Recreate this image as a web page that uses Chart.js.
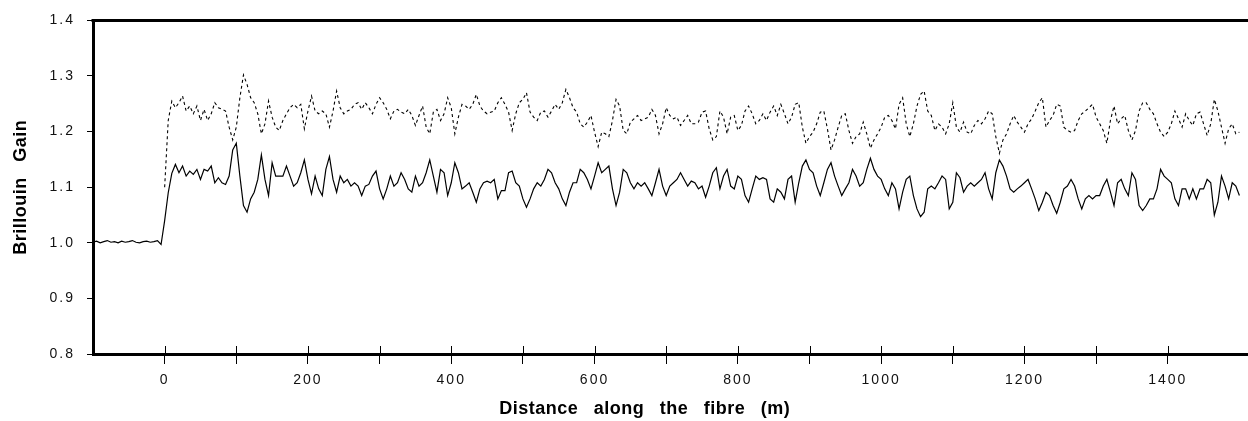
<!DOCTYPE html>
<html>
<head>
<meta charset="utf-8">
<script src="https://cdn.jsdelivr.net/npm/chart.js@4.4.1/dist/chart.umd.min.js"></script>
<style>
  html, body { margin: 0; padding: 0; background: #fff; }
  canvas { display: block; }
</style>
</head>
<body>
<canvas id="chart" width="1248" height="421"></canvas>
<script>
// distance step of the samples (m)
const STEP = 5
const SOLID_START = -100
const DASHED_START = 0

// Brillouin gain, solid trace, from -100 m to 1500 m
const solidGain = [
  1.001,1.003,1.000,1.002,1.004,1.001,1.002,1.000,1.003,1.001,1.002,1.004,1.001,1.000,1.002,1.003,1.001,1.002,1.004,0.997,
  1.040,1.090,1.125,1.141,1.126,1.138,1.120,1.129,1.123,1.132,1.114,1.132,1.129,1.138,1.108,1.117,1.108,1.105,1.120,1.167,
  1.179,1.120,1.067,1.055,1.079,1.091,1.114,1.158,1.114,1.085,1.144,1.120,1.120,1.120,1.138,1.120,1.102,1.108,1.126,1.149,
  1.114,1.088,1.120,1.097,1.085,1.132,1.155,1.114,1.091,1.120,1.108,1.114,1.102,1.108,1.102,1.085,1.102,1.105,1.120,1.129,
  1.097,1.079,1.097,1.120,1.102,1.108,1.126,1.114,1.097,1.091,1.120,1.102,1.108,1.126,1.149,1.120,1.091,1.132,1.126,1.085,
  1.108,1.144,1.126,1.097,1.102,1.108,1.091,1.073,1.097,1.108,1.111,1.108,1.114,1.079,1.094,1.094,1.126,1.129,1.108,1.102,
  1.079,1.064,1.079,1.097,1.108,1.102,1.114,1.132,1.126,1.108,1.097,1.079,1.067,1.091,1.108,1.108,1.132,1.126,1.114,1.097,
  1.120,1.144,1.126,1.132,1.138,1.097,1.067,1.091,1.132,1.126,1.108,1.097,1.108,1.102,1.108,1.097,1.085,1.108,1.132,1.102,
  1.085,1.102,1.108,1.114,1.126,1.114,1.102,1.111,1.108,1.097,1.102,1.082,1.102,1.126,1.135,1.097,1.120,1.132,1.102,1.097,
  1.120,1.114,1.085,1.073,1.097,1.120,1.114,1.117,1.114,1.079,1.073,1.097,1.091,1.079,1.114,1.120,1.073,1.108,1.138,1.149,
  1.132,1.126,1.102,1.085,1.108,1.132,1.144,1.120,1.102,1.085,1.097,1.108,1.132,1.120,1.102,1.108,1.132,1.152,1.132,1.120,
  1.114,1.097,1.085,1.108,1.097,1.061,1.091,1.114,1.120,1.085,1.061,1.047,1.055,1.097,1.102,1.097,1.108,1.120,1.114,1.061,
  1.073,1.126,1.117,1.091,1.102,1.108,1.102,1.108,1.114,1.126,1.097,1.079,1.126,1.149,1.138,1.120,1.097,1.091,1.097,1.102,
  1.108,1.114,1.097,1.079,1.058,1.073,1.091,1.085,1.067,1.053,1.073,1.097,1.102,1.114,1.102,1.079,1.061,1.079,1.085,1.079,
  1.085,1.085,1.102,1.114,1.091,1.067,1.108,1.114,1.097,1.085,1.126,1.114,1.067,1.058,1.067,1.079,1.079,1.097,1.132,1.120,
  1.114,1.108,1.079,1.067,1.097,1.097,1.079,1.097,1.079,1.097,1.097,1.114,1.108,1.050,1.073,1.120,1.102,1.079,1.108,1.102,
  1.085
]

// Brillouin gain, dashed trace, from 0 m to 1500 m
const dashedGain = [
  1.100,1.220,1.255,1.243,1.252,1.264,1.237,1.246,1.232,1.246,1.220,1.240,1.220,1.232,1.252,1.243,1.240,1.237,1.208,1.185,
  1.208,1.261,1.302,1.285,1.261,1.252,1.232,1.196,1.214,1.255,1.226,1.208,1.202,1.220,1.232,1.243,1.249,1.243,1.249,1.205,
  1.237,1.264,1.237,1.232,1.237,1.232,1.208,1.237,1.273,1.243,1.232,1.237,1.240,1.249,1.252,1.240,1.252,1.243,1.232,1.249,
  1.261,1.252,1.240,1.223,1.237,1.240,1.235,1.232,1.240,1.229,1.211,1.229,1.246,1.208,1.196,1.235,1.240,1.220,1.232,1.261,
  1.243,1.196,1.226,1.249,1.246,1.240,1.249,1.267,1.246,1.237,1.232,1.235,1.237,1.252,1.261,1.249,1.235,1.202,1.232,1.252,
  1.258,1.270,1.235,1.226,1.220,1.235,1.237,1.226,1.237,1.249,1.240,1.252,1.276,1.261,1.243,1.235,1.214,1.208,1.217,1.229,
  1.199,1.173,1.199,1.196,1.191,1.220,1.258,1.246,1.202,1.196,1.217,1.223,1.229,1.220,1.223,1.226,1.240,1.229,1.196,1.214,
  1.243,1.229,1.223,1.226,1.211,1.220,1.229,1.214,1.214,1.217,1.235,1.237,1.205,1.185,1.191,1.237,1.226,1.196,1.226,1.229,
  1.202,1.211,1.237,1.246,1.232,1.214,1.220,1.232,1.220,1.235,1.246,1.229,1.249,1.232,1.214,1.226,1.249,1.252,1.208,1.179,
  1.191,1.199,1.214,1.235,1.237,1.205,1.167,1.185,1.208,1.229,1.232,1.202,1.179,1.191,1.196,1.217,1.196,1.170,1.185,1.196,
  1.208,1.226,1.229,1.220,1.205,1.249,1.261,1.214,1.191,1.214,1.246,1.267,1.273,1.237,1.229,1.202,1.214,1.208,1.196,1.214,
  1.252,1.208,1.199,1.217,1.199,1.196,1.211,1.220,1.214,1.223,1.237,1.232,1.191,1.161,1.185,1.196,1.214,1.229,1.217,1.208,
  1.199,1.214,1.223,1.237,1.252,1.261,1.208,1.220,1.229,1.249,1.246,1.208,1.202,1.199,1.202,1.220,1.232,1.237,1.243,1.249,
  1.226,1.214,1.202,1.179,1.220,1.246,1.214,1.223,1.229,1.202,1.185,1.202,1.237,1.252,1.252,1.240,1.232,1.214,1.199,1.191,
  1.199,1.214,1.237,1.223,1.208,1.232,1.220,1.211,1.232,1.235,1.214,1.193,1.214,1.258,1.237,1.208,1.179,1.205,1.214,1.196,
  1.199
]

const xTickValues = [0, 100, 200, 300, 400, 500, 600, 700, 800, 900, 1000, 1100, 1200, 1300, 1400]
const xLabelValues = [0, 200, 400, 600, 800, 1000, 1200, 1400]
const yTickValues = [0.8, 0.9, 1.0, 1.1, 1.2, 1.3, 1.4]
const xTitle = 'Distance along the fibre (m)'
const yTitle = 'Brillouin Gain'

const FONT = 'Liberation Sans, Arial, Helvetica, sans-serif'

function toPoints(values, start) {
  return values.map((v, i) => ({ x: start + i * STEP, y: v }))
}

// wide tick digits, tight bold titles with wide word gaps
function spaceText(ctx) {
  if (ctx._spaced) return
  var fillText = ctx.fillText
  ctx.fillText = function (text, x, y, maxWidth) {
    var bold = this.font.indexOf('bold') >= 0
    this.letterSpacing = bold ? '0.5px' : '2px'
    this.wordSpacing = bold ? '10px' : '0px'
    return fillText.call(this, text, x, y, maxWidth)
  }
  ctx._spaced = true
}

// top frame line, x ticks above the axis, and the x title
const frameAndTicks = {
  id: 'frameAndTicks',
  beforeDraw(chart) {
    spaceText(chart.ctx)
  },
  afterDraw(chart) {
    var { ctx, chartArea, scales } = chart
    ctx.save()
    ctx.strokeStyle = '#000'
    ctx.lineWidth = 3
    ctx.beginPath()
    ctx.moveTo(chartArea.left - 1.5, chartArea.top)
    ctx.lineTo(chartArea.right, chartArea.top)
    ctx.stroke()

    ctx.lineWidth = 1
    xTickValues.forEach(v => {
      var px = Math.round(scales.x.getPixelForValue(v)) + 0.5
      ctx.beginPath()
      ctx.moveTo(px, chartArea.bottom - 8)
      ctx.lineTo(px, chartArea.bottom)
      ctx.stroke()
    })

    ctx.fillStyle = '#000'
    ctx.font = 'bold 18px ' + FONT
    ctx.textAlign = 'center'
    ctx.textBaseline = 'middle'
    ctx.fillText(xTitle, scales.x.getPixelForValue(670), 409)
    ctx.restore()
  }
}

new Chart(document.getElementById('chart'), {
  type: 'line',
  data: {
    datasets: [{
      data: toPoints(dashedGain, DASHED_START),
      borderColor: '#000',
      borderWidth: 1.1,
      borderDash: [3, 3],
      pointRadius: 0,
      tension: 0
    }, {
      data: toPoints(solidGain, SOLID_START),
      borderColor: '#000',
      borderWidth: 1.2,
      pointRadius: 0,
      tension: 0
    }]
  },
  options: {
    responsive: false,
    animation: false,
    devicePixelRatio: 1,
    layout: { padding: { top: 14, right: 0, bottom: 0, left: 0 } },
    plugins: {
      legend: { display: false },
      tooltip: { enabled: false }
    },
    scales: {
      x: {
        type: 'linear',
        min: -100,
        max: 1512,
        afterBuildTicks: scale => { scale.ticks = xTickValues.map(v => ({ value: v })) },
        afterFit: scale => { scale.height = 67 },
        ticks: {
          autoSkip: false,
          maxRotation: 0,
          color: '#111',
          padding: 8,
          font: { family: FONT, size: 14 },
          callback: v => xLabelValues.includes(v) ? String(v) : ''
        },
        grid: { drawOnChartArea: false, tickLength: 10, color: '#000', lineWidth: 1 },
        border: { color: '#000', width: 3 }
      },
      y: {
        min: 0.8,
        max: 1.4,
        afterBuildTicks: scale => { scale.ticks = yTickValues.map(v => ({ value: v })) },
        afterFit: scale => { scale.width = 93 },
        ticks: {
          color: '#111',
          padding: 12,
          font: { family: FONT, size: 14 },
          callback: v => v.toFixed(1)
        },
        grid: { drawOnChartArea: false, tickLength: 6, color: '#000', lineWidth: 1 },
        border: { color: '#000', width: 3 },
        title: {
          display: true,
          text: yTitle,
          color: '#000',
          font: { family: FONT, size: 18, weight: 'bold' },
          padding: { top: 10, bottom: 0 }
        }
      }
    }
  },
  plugins: [frameAndTicks]
})
</script>
</body>
</html>
